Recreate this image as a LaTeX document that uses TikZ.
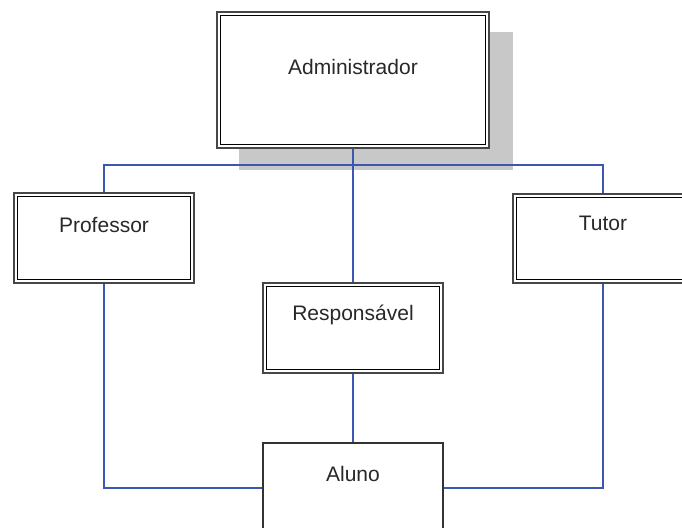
\documentclass[tikz,border=0pt]{standalone}
\usepackage{fontspec}
\setmainfont{Liberation Sans}
\usetikzlibrary{backgrounds}
\definecolor{linkblue}{RGB}{58,88,178}
\definecolor{labeltext}{RGB}{40,40,40}
\definecolor{shadowgray}{RGB}{200,200,200}
\begin{document}
\begin{tikzpicture}[x=1pt,y=-1pt,
  box/.style={draw=black!72, line width=2.2pt, fill=white, inner sep=0pt},
  single/.style={draw=black!80, line width=1.6pt, fill=white, inner sep=0pt},
  innerline/.style={draw=black, line width=1.5pt},
  link/.style={draw=linkblue, line width=1.2pt},
  caption/.style={font=\fontsize{21}{25}\selectfont, text=labeltext, inner sep=0pt}]
\useasboundingbox (0,0) rectangle (682,527);
\clip (0,0) rectangle (682,527);

% boxes
\node[box, minimum width=272pt, minimum height=136pt,
  label={[caption, yshift=13]center:Administrador}] (admin) at (353,80) {};
\node[box, minimum width=180pt, minimum height=90pt,
  label={[caption, yshift=13]center:Professor}] (prof) at (104,238) {};
\node[box, minimum width=180pt, minimum height=89pt,
  label={[caption, yshift=15.5]center:Tutor}] (tutor) at (603,238.5) {};
\node[box, minimum width=180pt, minimum height=90pt,
  label={[caption, yshift=13]center:Responsável}] (resp) at (353,328) {};
\node[single, minimum width=180pt, minimum height=97pt,
  label={[caption, yshift=18]center:Aluno}] (aluno) at (353,491.5) {};

% inner rule of the double-framed boxes
\foreach \n in {admin,prof,tutor,resp}
  \draw[innerline] ([shift={(4.5,4.5)}]\n.north west) rectangle ([shift={(-4.5,-4.5)}]\n.south east);

% helper rows for the connector runs
\coordinate (toprow) at (0,165);
\coordinate (lowrow) at (0,488);
\coordinate (busL) at (prof.north |- toprow);
\coordinate (busR) at (tutor.north |- toprow);

\begin{scope}[on background layer]
  % drop shadow behind the administrator box
  \fill[shadowgray] ([shift={(23,21)}]admin.north west) rectangle ([shift={(23,21)}]admin.south east);
  % connectors
  \draw[link] (prof.north) -- (busL) -- (busR) -- (tutor.north);
  \draw[link] (admin.south) -- (resp.north);
  \draw[link] (resp.south) -- (aluno.north);
  \draw[link] (prof.south) |- (aluno.west |- lowrow);
  \draw[link] (tutor.south) |- (aluno.east |- lowrow);
\end{scope}
\end{tikzpicture}
\end{document}
